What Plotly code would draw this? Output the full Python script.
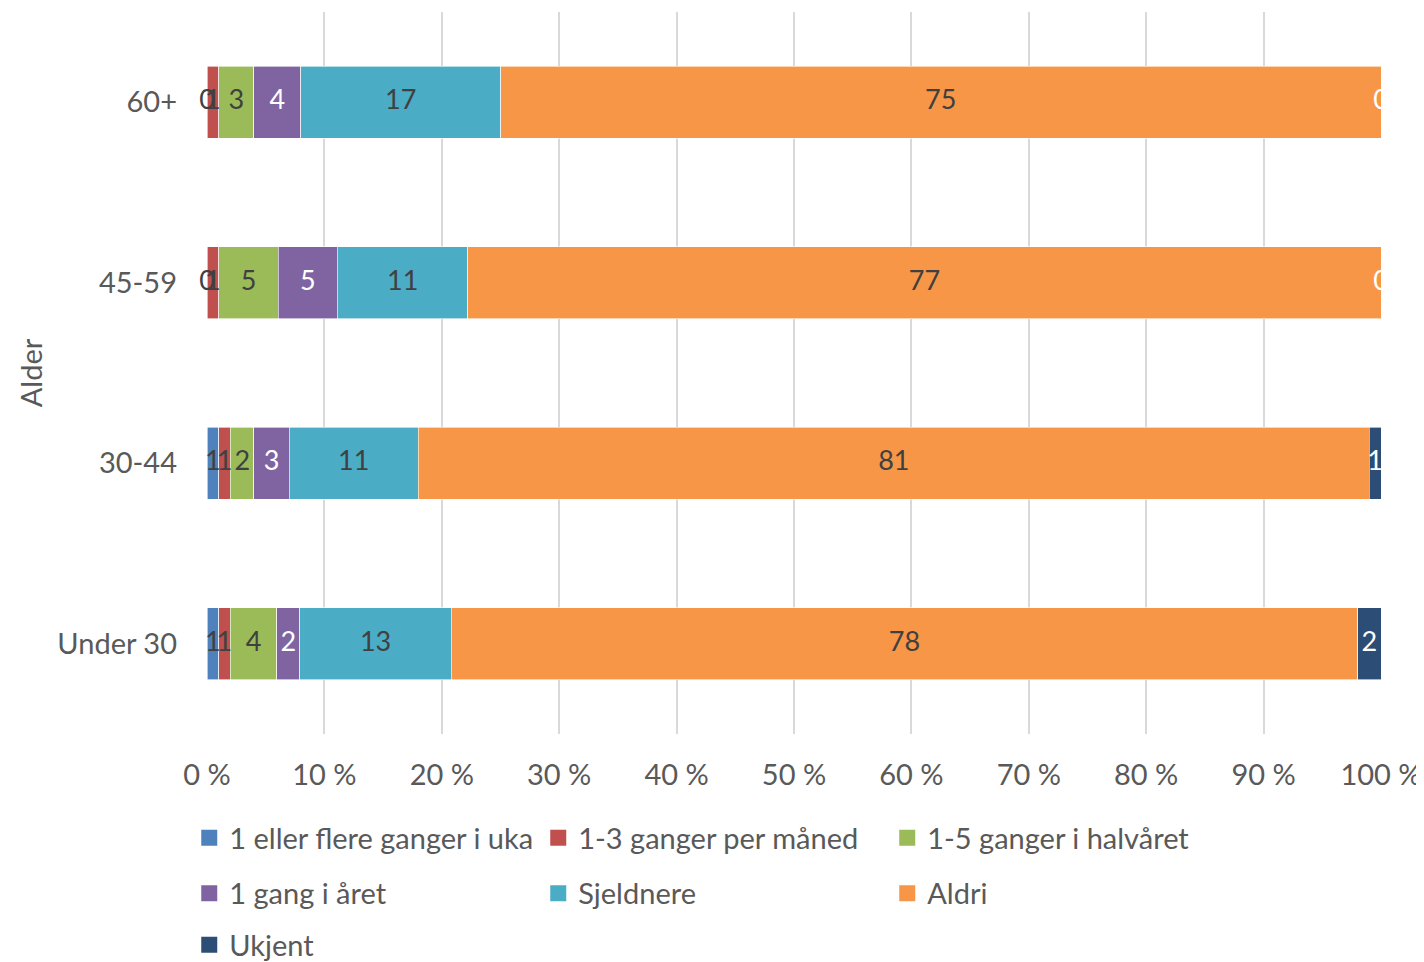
import plotly.graph_objects as go

# data
ages = ["Under 30", "30-44", "45-59", "60+"]
series = [
    "1 eller flere ganger i uka",
    "1-3 ganger per måned",
    "1-5 ganger i halvåret",
    "1 gang i året",
    "Sjeldnere",
    "Aldri",
    "Ukjent",
]
values = {
    "1 eller flere ganger i uka": [1, 1, 0, 0],
    "1-3 ganger per måned": [1, 1, 1, 1],
    "1-5 ganger i halvåret": [4, 2, 5, 3],
    "1 gang i året": [2, 3, 5, 4],
    "Sjeldnere": [13, 11, 11, 17],
    "Aldri": [78, 81, 77, 75],
    "Ukjent": [2, 1, 0, 0],
}
x_ticks = list(range(0, 101, 10))
x_ticktext = [f"{v} %" for v in x_ticks]

colors = ["#4F81BD", "#C0504D", "#9BBB59", "#8064A2", "#4BACC6", "#F79646", "#2C4D75"]
label_colors = ["#404040", "#404040", "#404040", "#FFFFFF", "#404040", "#404040", "#FFFFFF"]
legend_rows = ["legend", "legend", "legend", "legend2", "legend2", "legend2", "legend3"]
FONT = "Lato, Calibri, sans-serif"

fig = go.Figure()

for name, col in zip(series, colors):
    fig.add_trace(go.Bar(
        y=ages,
        x=values[name],
        name=name,
        orientation="h",
        marker=dict(color=col, line=dict(color="white", width=0.6)),
        showlegend=False,
    ))

# data labels, placed at the centre of each normalised segment
totals = [sum(values[s][i] for s in series) for i in range(len(ages))]
start = [0.0] * len(ages)
for k, (name, tcol) in enumerate(zip(series, label_colors)):
    xs = []
    for i, v in enumerate(values[name]):
        xs.append((start[i] + v / 2) / totals[i] * 100)
        start[i] += v
    fig.add_trace(go.Scatter(
        y=ages,
        x=xs,
        mode="text",
        text=[str(v) for v in values[name]],
        textfont=dict(family=FONT, size=27, color=tcol),
        showlegend=False,
        hoverinfo="skip",
        cliponaxis=(k != 0),
    ))

# legend entries (square swatches)
for name, col, lg in zip(series, colors, legend_rows):
    fig.add_trace(go.Scatter(
        x=[None], y=[None],
        mode="markers",
        marker=dict(symbol="square", size=18, color=col),
        name=name,
        legend=lg,
    ))

leg_common = dict(
    orientation="h",
    xref="container",
    x=0.128,
    xanchor="left",
    yref="container",
    yanchor="middle",
    entrywidth=304,
    entrywidthmode="pixels",
    font=dict(size=29, color="#595959"),
    itemwidth=30,
    traceorder="normal",
    bgcolor="rgba(0,0,0,0)",
)

fig.update_layout(
    barmode="stack",
    barnorm="percent",
    bargap=0.6,
    width=1416,
    height=954,
    margin=dict(l=199, r=43, t=4, b=228),
    plot_bgcolor="white",
    paper_bgcolor="white",
    font=dict(family=FONT, size=29, color="#595959"),
    xaxis=dict(
        range=[0, 100],
        tickvals=x_ticks,
        ticktext=x_ticktext,
        showgrid=True,
        gridcolor="#D9D9D9",
        gridwidth=2,
        zeroline=False,
        showline=False,
        ticklabelstandoff=21,
        ticklabeloverflow="allow",
        automargin=False,
    ),
    yaxis=dict(
        categoryorder="array",
        categoryarray=ages,
        showgrid=False,
        showline=False,
        ticklabelstandoff=29,
        title=dict(text="Alder", standoff=6, font=dict(size=29, color="#595959")),
        automargin=False,
    ),
    legend=dict(leg_common, y=0.130),
    legend2=dict(leg_common, y=0.072),
    legend3=dict(leg_common, y=0.018),
)

fig.write_html("out.html")
